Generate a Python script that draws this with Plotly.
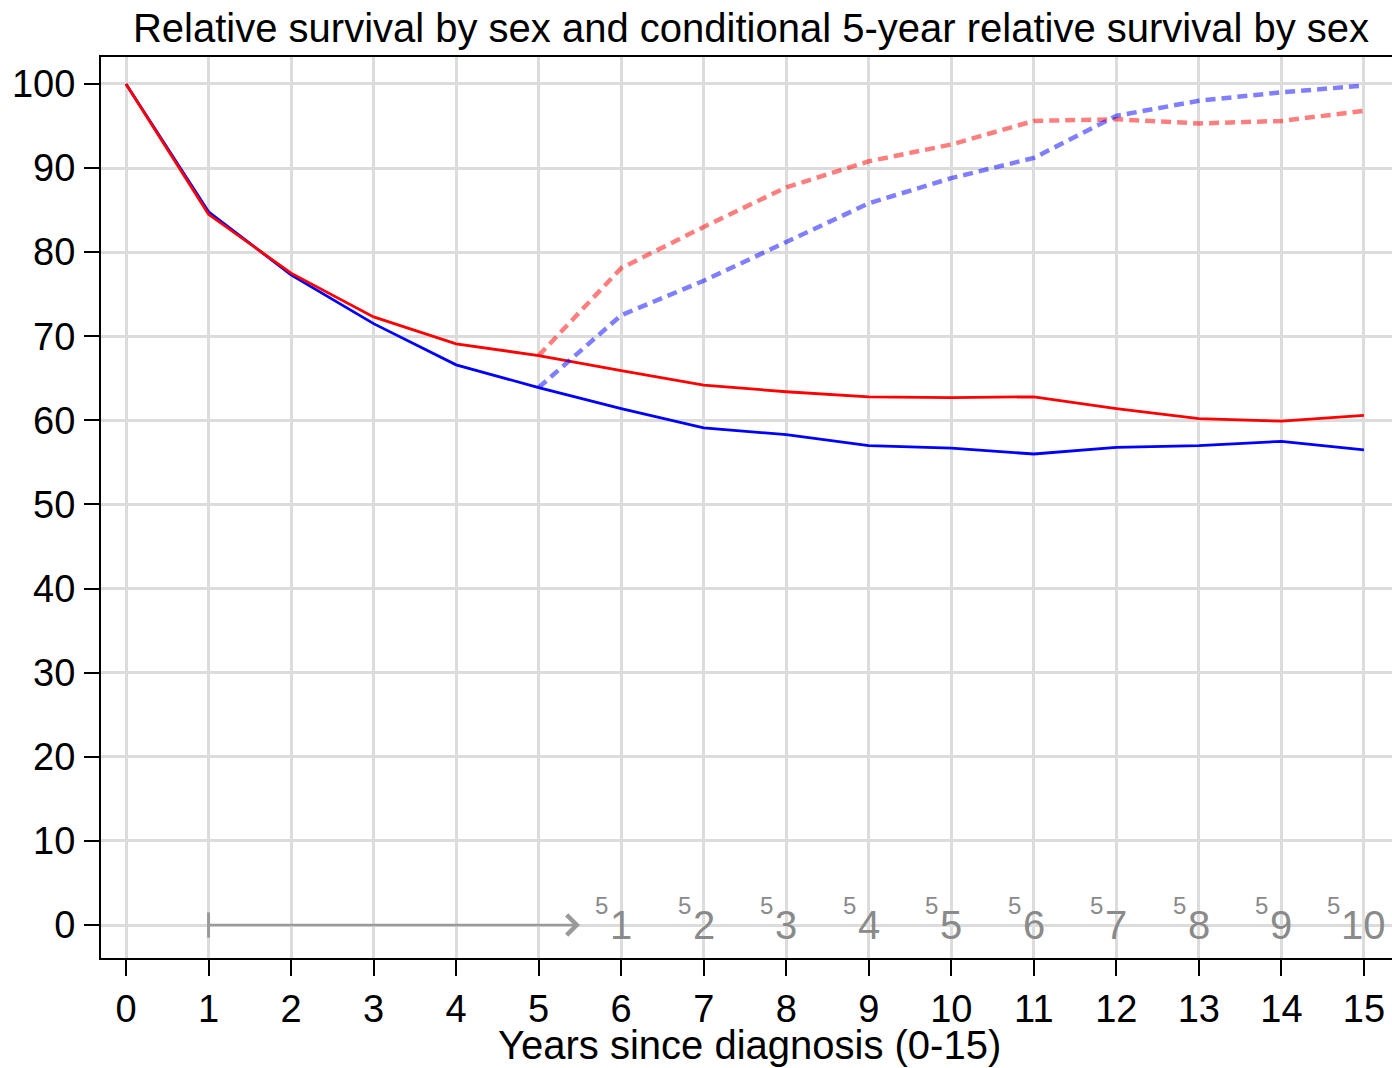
import plotly.graph_objects as go

# ---------------- data ----------------
years = list(range(0, 16))
rs_female = [100, 84.5, 77.5, 72.3, 69.1, 67.7, 65.9, 64.2, 63.4, 62.8, 62.7, 62.8, 61.4, 60.2, 59.9, 60.6]
rs_male = [100, 84.8, 77.3, 71.5, 66.6, 63.9, 61.4, 59.1, 58.3, 57.0, 56.7, 56.0, 56.8, 57.0, 57.5, 56.5]
cond_years = list(range(5, 16))
cond_female = [67.7, 78.1, 83.0, 87.7, 90.8, 92.8, 95.6, 95.8, 95.3, 95.6, 96.8]
cond_male = [63.9, 72.5, 76.6, 81.2, 85.8, 88.8, 91.2, 96.2, 98.0, 99.0, 99.8]
cond_label_x = list(range(6, 16))
cond_labels = [str(i) for i in range(1, 11)]
cond_sup = "5"
arrow_start = 1
arrow_end = 5.5
y_ticks = list(range(0, 101, 10))

FONT = "Liberation Sans, Arial, sans-serif"
GRAY_TXT = "#8a8a8a"
GRAY_ARROW = "#9a9a9a"
NUM_SIZE = 40

fig = go.Figure()
fig.add_trace(go.Scatter(x=years, y=rs_male, mode="lines",
                         line=dict(color="#0000FF", width=2.8), name="Males"))
fig.add_trace(go.Scatter(x=years, y=rs_female, mode="lines",
                         line=dict(color="#FF0000", width=2.8), name="Females"))
fig.add_trace(go.Scatter(x=cond_years, y=cond_female, mode="lines",
                         line=dict(color="rgba(255,0,0,0.5)", width=4.5, dash="10px,6px"),
                         name="Females conditional"))
fig.add_trace(go.Scatter(x=cond_years, y=cond_male, mode="lines",
                         line=dict(color="rgba(0,0,255,0.5)", width=4.5, dash="10px,6px"),
                         name="Males conditional"))
# start bar of arrow
fig.add_trace(go.Scatter(x=[arrow_start], y=[0], mode="markers",
                         marker=dict(symbol="line-ns", size=18,
                                     line=dict(color=GRAY_ARROW, width=3)),
                         hoverinfo="skip"))

annotations = []
annotations.append(dict(x=arrow_end, y=0, ax=arrow_start, ay=0, xref="x", yref="y",
                        axref="x", ayref="y", text="", showarrow=True,
                        arrowhead=4, arrowwidth=2.6, arrowsize=1.5,
                        arrowcolor=GRAY_ARROW))
for xv, lab in zip(cond_label_x, cond_labels):
    annotations.append(dict(x=xv, y=0, xref="x", yref="y", text=lab, showarrow=False,
                            xanchor="center", yanchor="middle",
                            font=dict(family=FONT, size=NUM_SIZE, color=GRAY_TXT)))
    half_w = len(lab) * 0.556 * NUM_SIZE / 2
    annotations.append(dict(x=xv, y=0, xref="x", yref="y", text=cond_sup, showarrow=False,
                            xanchor="right", yanchor="middle", xshift=-half_w, yshift=20,
                            font=dict(family=FONT, size=24, color=GRAY_TXT)))
# x-axis title (fixed position)
annotations.append(dict(x=(750 - 101) / 1291, y=(958 - 1021) / 901, xref="paper", yref="paper",
                        text="Years since diagnosis (0-15)", showarrow=False,
                        xanchor="center", yanchor="top",
                        font=dict(family=FONT, size=40, color="black")))

fig.update_layout(
    width=1392, height=1068,
    margin=dict(l=101, r=0, t=57, b=110),
    paper_bgcolor="white", plot_bgcolor="white",
    showlegend=False,
    font=dict(family=FONT, color="black"),
    title=dict(text="Relative survival by sex and conditional 5-year relative survival by sex",
               x=751 / 1392, xanchor="center", xref="container",
               y=1 - 28 / 1068, yanchor="middle", yref="container",
               font=dict(family=FONT, size=40, color="black")),
    annotations=annotations,
)
fig.update_xaxes(range=[-0.303, 15.34], tickmode="array", tickvals=years,
                 ticktext=[str(v) for v in years],
                 showgrid=True, gridcolor="#DCDCDC", gridwidth=2.5,
                 showline=True, linecolor="black", linewidth=2, mirror=True,
                 ticks="outside", ticklen=16, tickwidth=2, tickcolor="black",
                 tickfont=dict(family=FONT, size=38, color="black"),
                 zeroline=False)
fig.update_yaxes(range=[-3.92, 103.2], tickmode="array", tickvals=y_ticks,
                 showgrid=True, gridcolor="#DCDCDC", gridwidth=2.5,
                 showline=True, linecolor="black", linewidth=2,
                 ticks="outside", ticklen=15, tickwidth=2, tickcolor="black",
                 ticklabelstandoff=1,
                 tickfont=dict(family=FONT, size=38, color="black"),
                 zeroline=False)

fig.write_html("out.html", config={"displayModeBar": False},
               post_script="document.body.style.margin='0';document.body.style.overflow='hidden';")
